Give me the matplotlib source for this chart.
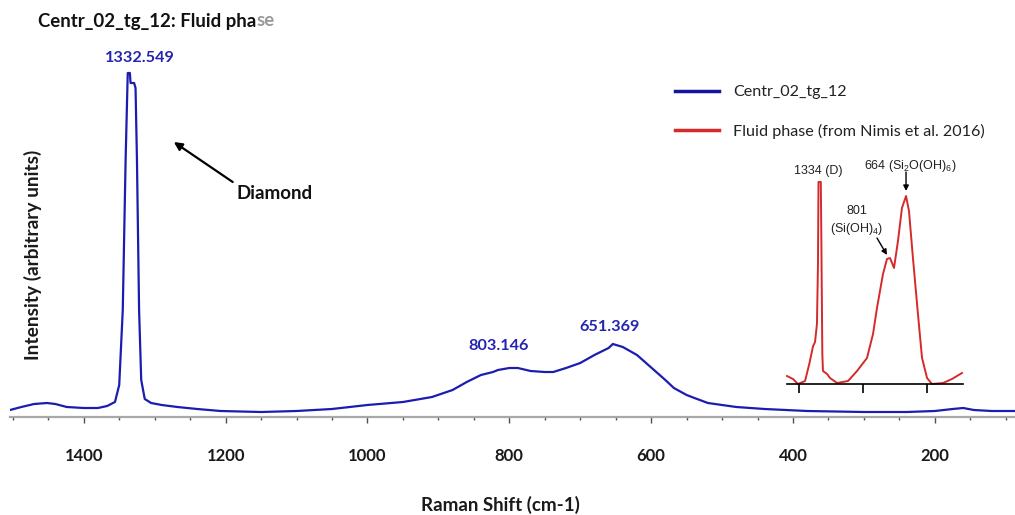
import matplotlib
matplotlib.use("Agg")
import matplotlib.pyplot as plt
from matplotlib.lines import Line2D
from matplotlib.ticker import MultipleLocator

plt.rcParams['font.family'] = ['Lato', 'DejaVu Sans']
plt.rcParams['mathtext.fontset'] = 'custom'
plt.rcParams['mathtext.rm'] = 'Liberation Sans'
plt.rcParams['mathtext.it'] = 'Liberation Sans'

# ---- main spectrum (Raman shift cm-1, intensity a.u.) ----
shift = [1504, 1488, 1470, 1452, 1440, 1424, 1400, 1380, 1367, 1356, 1350, 1345,
         1341, 1338, 1335, 1334, 1329, 1327, 1325, 1322, 1319, 1314, 1305, 1290,
         1268, 1240, 1207, 1150, 1100, 1050, 1000, 950, 909, 880, 860, 840, 823,
         816, 800, 788, 770, 750, 738, 720, 700, 680, 660, 654, 640, 620, 596, 580,
         568, 550, 539, 520, 480, 440, 380, 300, 240, 200, 175, 160, 145, 120, 87]
intensity = [3, 6, 9, 10, 9, 6, 5, 5, 7, 11, 28, 103,
             253, 340, 340, 330, 330, 325, 253, 103, 33, 14, 10, 8,
             6, 4, 2, 1, 2, 4, 8, 11, 16, 23, 31, 38, 41,
             43, 45, 45, 42, 41, 41, 45, 50, 58, 65, 69, 66, 58, 43, 33,
             25, 18, 15, 10, 6, 4, 2, 1, 1, 2, 4, 5, 3, 2, 2]

# ---- inset: fluid phase spectrum (Nimis et al. 2016) ----
ref_shift = [1594, 1547, 1508, 1453, 1420, 1400, 1390, 1375, 1360, 1352, 1348, 1330,
             1326, 1318, 1313, 1281, 1258, 1203, 1117, 1047, 969, 922, 891, 844, 813,
             789, 758, 727, 696, 664, 641, 610, 571, 539, 500, 461, 375, 305, 227]
ref_int = [8, 5, 0, 3, 20, 32, 38, 42, 60, 120, 202, 202,
           150, 30, 13, 10, 6, 1, 3, 13, 26, 50, 76, 110, 125,
           126, 116, 143, 176, 188, 173, 126, 70, 26, 6, 0, 1, 5, 11]

peak_labels = ["1332.549", "803.146", "651.369"]
label_x = [1321, 815, 658]
label_y = [355, 67, 86]

BLUE = '#1c1cb0'
LBLUE = '#2424b0'
RED = '#d62a2a'
W, H = 1015, 515

fig = plt.figure(figsize=(W / 100, H / 100), dpi=100)
ax = fig.add_axes([10 / W, 1 - 417 / H, 1005 / W, (417 - 40) / H])
ax.plot(shift, intensity, color=BLUE, lw=1.6)
ax.set_xlim(1504, 87)
ax.set_ylim(-4, 373)
for s in ['left', 'right', 'top']:
    ax.spines[s].set_visible(False)
ax.spines['bottom'].set_color('#a8a8a8')
ax.spines['bottom'].set_linewidth(1.6)
ax.set_yticks([])
ax.xaxis.set_major_locator(MultipleLocator(200))
ax.xaxis.set_minor_locator(MultipleLocator(50))
ax.tick_params(axis='x', which='major', length=4, width=1, color='#505050',
               pad=18, labelsize=12, labelcolor='#1a1a1a')
ax.tick_params(axis='x', which='minor', length=2.5, width=1, color='#505050')
for lab in ax.get_xticklabels():
    lab.set_fontweight('bold')

fig.text(500 / W, 1 - 505 / H, 'Raman Shift (cm-1)', ha='center', va='center',
         fontsize=13.5, fontweight='bold', color='#1a1a1a')
fig.text(33 / W, 1 - 255 / H, 'Intensity (arbitrary units)', rotation=90,
         ha='center', va='center', fontsize=13.8, fontweight='bold', color='#1a1a1a')

# peak labels
for lab, px, py in zip(peak_labels, label_x, label_y):
    ax.text(px, py, lab, ha='center', va='center', color=LBLUE,
            fontsize=11.7, fontweight='bold')

# Diamond arrow
ax.annotate('', xy=(1273, 271), xytext=(1190, 231),
            arrowprops=dict(arrowstyle='-|>', color='black', lw=1.6,
                            mutation_scale=12, shrinkA=0, shrinkB=0))
ax.text(1184, 219.5, 'Diamond', ha='left', va='center', fontsize=13.5,
        fontweight='bold', color='#111111')

# title
renderer = fig.canvas.get_renderer()
t1 = fig.text(38 / W, 1 - 21 / H, 'Centr_02_tg_12: Fluid pha', ha='left', va='center',
              fontsize=13.4, fontweight='bold', color='#111111')
bb = t1.get_window_extent(renderer)
fig.text(bb.x1 / W, 1 - 21 / H, 'se', ha='left', va='center',
         fontsize=13.4, fontweight='bold', color='#9a9a9a')

# inset
ins = fig.add_axes([787 / W, 1 - 384 / H, 176 / W, (384 - 141) / H])
ins.plot(ref_shift, ref_int, color=RED, lw=1.4, clip_on=False)
ins.set_xlim(1594, 219)
ins.set_ylim(0, 243)
ins.patch.set_alpha(0)
for s in ['left', 'right', 'top']:
    ins.spines[s].set_visible(False)
ins.spines['bottom'].set_color('black')
ins.spines['bottom'].set_linewidth(1.2)
ins.set_yticks([])
ins.set_xticks([1500, 1000, 500])
ins.set_xticklabels([])
ins.tick_params(axis='x', length=6.5, width=1.2, color='black')
ifont = dict(family=['Liberation Sans', 'DejaVu Sans'], fontsize=9, color='#222222')
ins.text(1352, 213, '1334 (D)', ha='center', va='center', **ifont)
ins.text(633, 218, r'664 (Si$_2$O(OH)$_6$)', ha='center', va='center', **ifont)
ins.text(1047, 173, '801', ha='center', va='center', **ifont)
ins.text(1047, 155, r'(Si(OH)$_4$)', ha='center', va='center', **ifont)
ins.annotate('', xy=(664, 193), xytext=(664, 212),
             arrowprops=dict(arrowstyle='-|>', color='black', lw=1.0,
                             mutation_scale=8, shrinkA=0, shrinkB=0))
ins.annotate('', xy=(813, 129), xytext=(891, 146),
             arrowprops=dict(arrowstyle='-|>', color='black', lw=1.0,
                             mutation_scale=8, shrinkA=0, shrinkB=0))

# legend
handles = [Line2D([], [], color='#1414a0', lw=2.5),
           Line2D([], [], color=RED, lw=2.5)]
fig.legend(handles, ['Centr_02_tg_12', 'Fluid phase (from Nimis et al. 2016)'],
           loc='upper left', bbox_to_anchor=(675 / W, 1 - 85 / H), frameon=False,
           fontsize=11.6, handlelength=2.73, handletextpad=0.87, labelspacing=1.51,
           borderpad=0, borderaxespad=0, labelcolor='#222222')

fig.savefig('out.png', dpi=100)
